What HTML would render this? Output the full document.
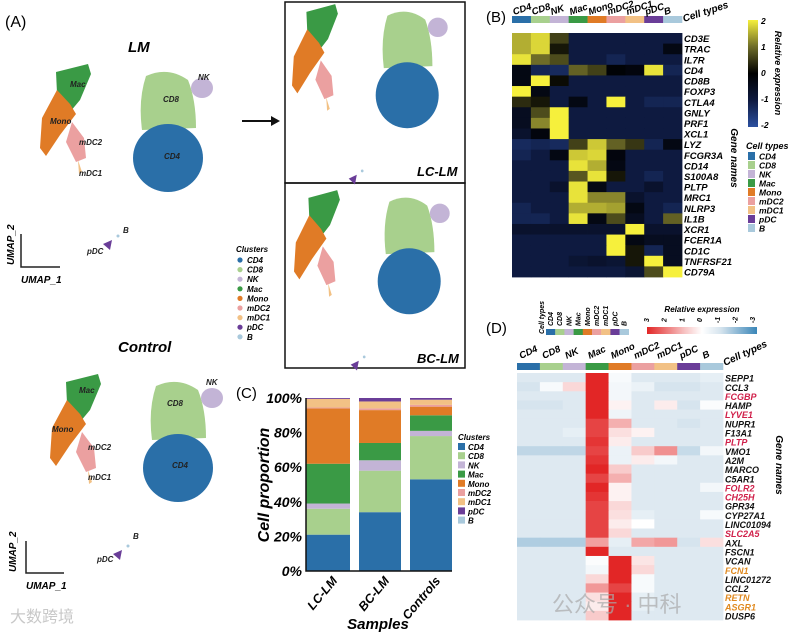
<!DOCTYPE html>
<html><head><meta charset="utf-8"><style>
body{margin:0;background:#fff;}
svg{display:block;font-family:"Liberation Sans","Noto Sans CJK SC",sans-serif;}
.bi{font-weight:bold;font-style:italic;}
</style></head><body>
<svg id="fig" width="788" height="635" viewBox="0 0 788 635" xmlns="http://www.w3.org/2000/svg">
<defs>
<g id="umap">
<polygon points="56,72 88,64 91,74 80,100 70,112 57,93" fill="#3a9a45"/>
<polygon points="57,90 70,104 76,114 60,135 46,156 40,148 42,118" fill="#e07b26"/>
<polygon points="72,122 84,138 86,158 76,162 66,142" fill="#eba0a0"/>
<polygon points="78,160 82,172 79,174" fill="#f2c185"/>
<path d="M146,76 Q168,66 188,80 Q196,100 196,128 L142,130 Q138,100 146,76Z" fill="#a8d08d"/>
<ellipse cx="168" cy="158" rx="35" ry="34" fill="#2a6fa8"/>
<ellipse cx="202" cy="88" rx="11" ry="10" fill="#c3b4d6"/>
<path d="M103,244 L112,240 L110,250Z" fill="#6a3d98"/>
<circle cx="118" cy="236" r="1.5" fill="#a9c9dc"/>
</g>
</defs>

<!-- Panel A -->
<text x="5" y="27" font-size="16">(A)</text>
<text x="128" y="52" font-size="15" class="bi">LM</text>
<use href="#umap"/>
<g font-size="8" class="bi" fill="#222">
<text x="70" y="87">Mac</text>
<text x="50" y="124">Mono</text>
<text x="79" y="145">mDC2</text>
<text x="79" y="176">mDC1</text>
<text x="163" y="102">CD8</text>
<text x="164" y="159">CD4</text>
<text x="198" y="80">NK</text>
<text x="87" y="254">pDC</text>
<text x="123" y="233">B</text>
</g>
<path d="M21,234 V267 H60" stroke="#222" stroke-width="1.5" fill="none"/>
<text x="21" y="283" font-size="10" class="bi">UMAP_1</text>
<text transform="translate(14,265) rotate(-90)" font-size="10" class="bi">UMAP_2</text>

<path d="M242,121 H273" stroke="#111" stroke-width="2"/>
<path d="M271,116 L280,121 L271,126Z" fill="#111"/>

<rect x="285" y="2" width="180" height="181" fill="none" stroke="#111" stroke-width="1.5"/>
<rect x="285" y="183" width="180" height="185" fill="none" stroke="#111" stroke-width="1.5"/>
<use href="#umap" transform="translate(256,-58) scale(0.9,0.97)"/>
<use href="#umap" transform="translate(258,128) scale(0.9,0.97)"/>
<text x="417" y="176" font-size="13" class="bi">LC-LM</text>
<text x="417" y="363" font-size="13" class="bi">BC-LM</text>

<g id="clusterLegend" font-size="8" class="bi">
<text x="236" y="252" font-size="8">Clusters</text>
</g>

<text x="118" y="352" font-size="15" class="bi">Control</text>
<use href="#umap" transform="translate(10,310)"/>
<g font-size="8" class="bi" fill="#222">
<text x="79" y="393">Mac</text>
<text x="52" y="432">Mono</text>
<text x="88" y="450">mDC2</text>
<text x="88" y="480">mDC1</text>
<text x="167" y="406">CD8</text>
<text x="172" y="468">CD4</text>
<text x="206" y="385">NK</text>
<text x="97" y="562">pDC</text>
<text x="133" y="539">B</text>
</g>
<path d="M26,541 V573 H64" stroke="#222" stroke-width="1.5" fill="none"/>
<text x="26" y="589" font-size="10" class="bi">UMAP_1</text>
<text transform="translate(16,572) rotate(-90)" font-size="10" class="bi">UMAP_2</text>
<text x="10" y="622" font-size="16" fill="#c8c8c8">大数跨境</text>

<!-- Panel C -->
<text x="236" y="398" font-size="15">(C)</text>
<g id="panelC"></g>
<text transform="translate(269,485) rotate(-90)" font-size="16" class="bi" text-anchor="middle">Cell proportion</text>
<text x="378" y="629" font-size="15" class="bi" text-anchor="middle">Samples</text>

<!-- Panel B -->
<text x="486" y="22" font-size="15">(B)</text>
<g id="panelB"></g>

<!-- Panel D -->
<text x="486" y="333" font-size="15">(D)</text>
<g id="panelD"></g>
<text x="552" y="612" font-size="22" fill="#aaa" opacity="0.7">公众号 · 中科</text>
</svg>
<script>
const NS="http://www.w3.org/2000/svg";
const clusters=["CD4","CD8","NK","Mac","Mono","mDC2","mDC1","pDC","B"];
const clusterColors=["#2a6fa8","#a8d08d","#c3b4d6","#3a9a45","#e07b26","#eba0a0","#f2c185","#6a3d98","#a9c9dc"];
// Panel C data (percent per cluster)
const samples=["LC-LM","BC-LM","Controls"];
const pctCD4=[21,34,53];
const pctCD8=[15,24,25];
const pctNK=[3,6,3];
const pctMac=[23,10,9];
const pctMono=[32,19,5];
const pctMDC2=[0.5,1,1];
const pctMDC1=[5,4,3];
const pctPDC=[0.5,2,1];
const pctB=[0,0,0];
const yTicks=["0%","20%","40%","60%","80%","100%"];
// Panel B data
const genesB=["CD3E","TRAC","IL7R","CD4","CD8B","FOXP3","CTLA4","GNLY","PRF1","XCL1","LYZ","FCGR3A","CD14","S100A8","PLTP","MRC1","NLRP3","IL1B","XCR1","FCER1A","CD1C","TNFRSF21","CD79A"];
const exprB=[
[1.5,1.8,0.6,-1,-1,-1,-1,-1,-1],
[1.5,1.8,0.2,-1,-1,-1,-1,-1,-0.3],
[1.9,1.0,0.7,-1,-1,-1.2,-1,-1,-1],
[-0.3,-1.2,-1.3,0.9,0.6,-0.1,-0.2,1.9,-1.2],
[-0.3,2,0.1,-1,-1,-1,-1,-1,-1],
[2,-0.3,-1,-1,-1,-1,-1,-1,-1],
[0.4,0.2,-1,-0.3,-1,2,-1,-1.2,-1.2],
[-0.5,0.7,2,-1,-1,-1,-1,-1,-1],
[-0.5,1.2,2,-1,-1,-1,-1,-1,-1],
[-0.7,-0.2,2,-1,-1,-1,-1,-1,-1],
[-1.3,-1.2,-1.3,0.6,1.7,0.9,0.5,-1.2,-0.3],
[-1.2,-1,-0.3,1.7,1.8,-0.2,-1,-1,-1],
[-1,-1,-1,1.9,1.5,-0.3,-1,-1,-1],
[-1,-1,-1,0.8,1.9,0.2,-1,-1.2,-1],
[-1,-1,-0.7,1.9,-0.3,-1,-1,-0.7,-1],
[-1,-1,-1,1.9,1.2,1.2,-0.7,-1,-1],
[-1.2,-1,-1,1.5,1.5,1.4,-0.3,-1,-1.2],
[-1.2,-1.2,-1,1.9,-0.3,0.7,-0.5,-1,0.9],
[-0.7,-0.7,-0.7,-0.7,-0.7,-0.7,2,-0.7,-0.7],
[-1,-1,-1,-1,-1,2,-0.3,-0.5,-0.5],
[-1,-1,-1,-1,-1,2,0.2,-1.2,-0.5],
[-1,-1,-1,-0.8,-0.7,-0.8,0.2,2,-0.5],
[-1,-1,-1,-1,-1,-1,-0.8,0.7,2]];
const ticksB=["2","1","0","-1","-2"];
// Panel D data
const genesD=["SEPP1","CCL3","FCGBP","HAMP","LYVE1","NUPR1","F13A1","PLTP","VMO1","A2M","MARCO","C5AR1","FOLR2","CH25H","GPR34","CYP27A1","LINC01094","SLC2A5","AXL","FSCN1","VCAN","FCN1","LINC01272","CCL2","RETN","ASGR1","DUSP6"];
const geneColorD=["k","k","r","k","r","k","k","r","k","k","k","k","r","r","k","k","k","r","k","k","k","o","k","k","o","o","k"];
const exprD=[
[-0.8,-0.8,-0.8,3,-0.2,-0.8,-0.8,-0.8,-0.6],
[-1,-0.2,0.6,3,-0.3,-0.5,-1,-1,-0.8],
[-0.8,-0.8,-0.8,3,-0.3,-0.8,-0.8,-0.8,-0.8],
[-1,-1,-0.8,3,0.2,-0.8,0.3,-1,-0.1],
[-0.8,-0.8,-0.8,3,-0.4,-0.8,-0.8,-0.8,-0.8],
[-0.8,-0.8,-0.8,2.6,1.2,-0.8,-0.8,-1,-0.8],
[-0.8,-0.8,-0.6,2.6,0.5,0.2,-0.8,-0.8,-0.8],
[-0.8,-0.8,-0.8,2.8,0.3,-0.8,-0.8,-0.8,-0.8],
[-1.3,-1.3,-1.3,2.6,-0.5,0.8,1.6,-1.2,-0.3],
[-0.8,-0.8,-0.8,2.8,-0.5,0.3,-0.3,-0.8,-0.8],
[-0.8,-0.8,-0.8,3,0.8,-0.8,-0.8,-0.8,-0.8],
[-0.8,-0.8,-0.8,2.6,1.2,-0.8,-0.8,-0.8,-0.8],
[-0.8,-0.8,-0.8,3,0.2,-0.8,-0.8,-0.8,-0.3],
[-0.8,-0.8,-0.8,2.8,0.2,-0.8,-0.8,-0.8,-0.8],
[-0.8,-0.8,-0.8,2.6,0.6,-0.8,-0.8,-0.8,-0.8],
[-0.8,-0.8,-0.8,2.6,0.5,-0.6,-0.8,-0.8,-0.2],
[-0.8,-0.8,-0.8,2.6,0.3,0,-0.8,-0.8,-0.8],
[-0.8,-0.8,-0.8,2.6,0.6,-0.8,-0.8,-0.8,-0.8],
[-1.5,-1.5,-1.5,1.4,-0.6,1.3,1.5,-1,0.5],
[-0.8,-0.8,-0.8,3,-0.8,-0.8,-0.8,-0.8,-0.8],
[-0.8,-0.8,-0.8,-0.1,3,0.4,-0.8,-0.8,-0.8],
[-0.8,-0.8,-0.8,-0.3,3,0.6,-0.8,-0.8,-0.8],
[-0.8,-0.8,-0.8,0.6,3,-0.2,-0.8,-0.8,-0.8],
[-0.8,-0.8,-0.8,1.5,2.6,-0.2,-0.8,-0.8,-0.8],
[-0.8,-0.8,-0.8,0.5,3,-0.6,-0.8,-0.8,-0.8],
[-0.8,-0.8,-0.8,0.3,3,-0.6,-0.8,-0.8,-0.8],
[-0.8,-0.8,-0.8,0.8,3,-0.8,-0.8,-0.8,-0.8]];
const ticksD=["3","2","1","0","-1","-2","-3"];

function mk(tag,attrs,parent,txt){const e=document.createElementNS(NS,tag);for(const k in attrs)e.setAttribute(k,attrs[k]);if(txt!==undefined)e.textContent=txt;parent.appendChild(e);return e;}
function lerp(a,b,t){return a.map((v,i)=>Math.round(v+(b[i]-v)*t));}
function rampColor(stops,v){for(let i=0;i<stops.length-1;i++){if(v<=stops[i+1][0]){const t=(v-stops[i][0])/(stops[i+1][0]-stops[i][0]);const c=lerp(stops[i][1],stops[i+1][1],Math.max(0,Math.min(1,t)));return `rgb(${c})`;}}return `rgb(${stops[stops.length-1][1]})`;}
const stopsB=[[-2,[44,80,160]],[-1,[14,26,64]],[0,[0,0,0]],[1,[110,108,40]],[2,[246,240,60]]];
const stopsD=[[-3,[58,134,184]],[-1,[214,228,238]],[0,[255,255,255]],[1,[246,190,190]],[3,[226,38,38]]];

// cluster legend A
const legA=document.getElementById('clusterLegend');
clusters.forEach((c,i)=>{
 const y=263+i*9.6;
 const d=mk('circle',{cx:240,cy:y-3,r:2.6,fill:clusterColors[i]},legA);
 
 
 const t=mk('text',{x:247,y:y},legA,c);
 
 
});

// Panel C
const gC=document.getElementById('panelC');
const cx0=306,cx1=452,cy0=571,cy1=398;
const yS=v=>cy0-(cy0-cy1)*v/100;
const barX=[306,359,410],barW=[44,42,42];
const series=[pctCD4,pctCD8,pctNK,pctMac,pctMono,pctMDC2,pctMDC1,pctPDC,pctB];
samples.forEach((s,j)=>{
 let acc=0;
 series.forEach((arr,k)=>{
  const v=arr[j];const r=mk('rect',{x:barX[j],y:yS(acc+v),width:barW[j],height:Math.max(0,yS(acc)-yS(acc+v)),fill:clusterColors[k]},gC);
  
  
  acc+=v;
 });
 const t=mk('text',{transform:`translate(${barX[j]+barW[j]/2+10},${cy0+10}) rotate(-50)`,'font-size':12.5,'text-anchor':'end',class:'bi'},gC,s);
 
 
});
const ax=mk('path',{d:`M${cx0},${cy1} V${cy0} H${cx1}`,stroke:'#111','stroke-width':1.5,fill:'none'},gC);


yTicks.forEach((l,i)=>{
 const t=mk('text',{x:302,y:yS(i*20)+5,'font-size':14,'text-anchor':'end',class:'bi'},gC,l);
 
 
});
const lt=mk('text',{x:458,y:440,'font-size':8,class:'bi'},gC,'Clusters');


clusters.forEach((c,i)=>{
 const y=443+i*9.2;
 const r=mk('rect',{x:458,y:y,width:7,height:7,fill:clusterColors[i]},gC);
 
 
 const t=mk('text',{x:468,y:y+7,'font-size':8,class:'bi'},gC,c);
 
 
});

// Panel B
const gB=document.getElementById('panelB');
const bx=512,bw=170/9,by=33,bh=244/23;
clusters.forEach((c,i)=>{
 const r=mk('rect',{x:bx+i*bw,y:16,width:bw+0.3,height:7,fill:clusterColors[i]},gB);
 
 
 const t=mk('text',{transform:`translate(${bx+i*bw+2},${15}) rotate(-18)`,'font-size':9.5,class:'bi'},gB,c);
 
 
});
const ctb=mk('text',{transform:`translate(684,22) rotate(-18)`,'font-size':10,class:'bi'},gB,'Cell types');


genesB.forEach((g,r)=>{
 exprB[r].forEach((v,c)=>{
  const e=mk('rect',{x:bx+c*bw,y:by+r*bh,width:bw+0.4,height:bh+0.4,fill:rampColor(stopsB,v)},gB);
  
  
 });
 const t=mk('text',{x:684,y:by+r*bh+bh-1.5,'font-size':9.5,class:'bi'},gB,g);
 
 
});
const gnB=mk('text',{transform:'translate(731,158) rotate(90)','font-size':10,class:'bi','text-anchor':'middle'},gB,'Gene names');


// colorbar B
const gradB=mk('linearGradient',{id:'gradB',x1:0,y1:0,x2:0,y2:1},gB);
[[0,'rgb(246,240,60)'],[0.25,'rgb(110,108,40)'],[0.5,'#000'],[0.75,'rgb(14,26,64)'],[1,'rgb(44,80,160)']].forEach(s=>mk('stop',{offset:s[0],'stop-color':s[1]},gradB));
const cbB=mk('rect',{x:748,y:20,width:10,height:107,fill:'url(#gradB)'},gB);


ticksB.forEach((l,i)=>{
 const t=mk('text',{x:761,y:24+i*26,'font-size':8.5,class:'bi'},gB,l);
 
 
});
const reB=mk('text',{transform:'translate(775,73) rotate(90)','font-size':9,class:'bi','text-anchor':'middle'},gB,'Relative expression');


const ctl=mk('text',{x:746,y:149,'font-size':9,class:'bi'},gB,'Cell types');


clusters.forEach((c,i)=>{
 const y=152+i*9;
 const r=mk('rect',{x:748,y:y,width:7,height:8,fill:clusterColors[i]},gB);
 
 
 const t=mk('text',{x:759,y:y+7.5,'font-size':8.5,class:'bi'},gB,c);
 
 
});

// Panel D
const gD=document.getElementById('panelD');
const dx=517,dw=206/9,dy=373,dh=247/27;
const cmini=mk('text',{transform:'translate(544,334) rotate(-90)','font-size':7,class:'bi'},gD,'Cell types');


clusters.forEach((c,i)=>{
 const r=mk('rect',{x:546+i*9.2,y:329,width:9.4,height:6,fill:clusterColors[i]},gD);
 
 
 const t=mk('text',{transform:`translate(${553+i*9.2},326) rotate(-90)`,'font-size':7,class:'bi'},gD,c);
 
 
 const r2=mk('rect',{x:dx+i*dw,y:363,width:dw+0.3,height:7,fill:clusterColors[i]},gD);
 
 
 const t2=mk('text',{transform:`translate(${dx+i*dw+4},359) rotate(-25)`,'font-size':9.5,class:'bi'},gD,c);
 
 
});
const ctd=mk('text',{transform:'translate(725,366) rotate(-25)','font-size':10,class:'bi'},gD,'Cell types');


const gradD=mk('linearGradient',{id:'gradD',x1:0,y1:0,x2:1,y2:0},gD);
[[0,'rgb(226,38,38)'],[0.33,'rgb(246,190,190)'],[0.5,'#fff'],[0.67,'rgb(214,228,238)'],[1,'rgb(58,134,184)']].forEach(s=>mk('stop',{offset:s[0],'stop-color':s[1]},gradD));
const cbD=mk('rect',{x:647,y:327,width:110,height:7,fill:'url(#gradD)'},gD);


const reD=mk('text',{x:702,y:312,'font-size':8,class:'bi','text-anchor':'middle'},gD,'Relative expression');


ticksD.forEach((l,i)=>{
 const t=mk('text',{transform:`translate(${649+i*17.7},320) rotate(-90)`,'font-size':7,class:'bi','text-anchor':'middle'},gD,l);
 
 
});
const gcol={k:'#111',r:'#d0204a',o:'#e08a20'};
genesD.forEach((g,r)=>{
 exprD[r].forEach((v,c)=>{
  const e=mk('rect',{x:dx+c*dw,y:dy+r*dh,width:dw+0.4,height:dh+0.4,fill:rampColor(stopsD,v)},gD);
  
  
 });
 const t=mk('text',{x:725,y:dy+r*dh+dh-0.5,'font-size':9,class:'bi',fill:gcol[geneColorD[r]]},gD,g);
 
 
});
const gnD=mk('text',{transform:'translate(776,465) rotate(90)','font-size':10,class:'bi','text-anchor':'middle'},gD,'Gene names');


</script>
</body></html>
